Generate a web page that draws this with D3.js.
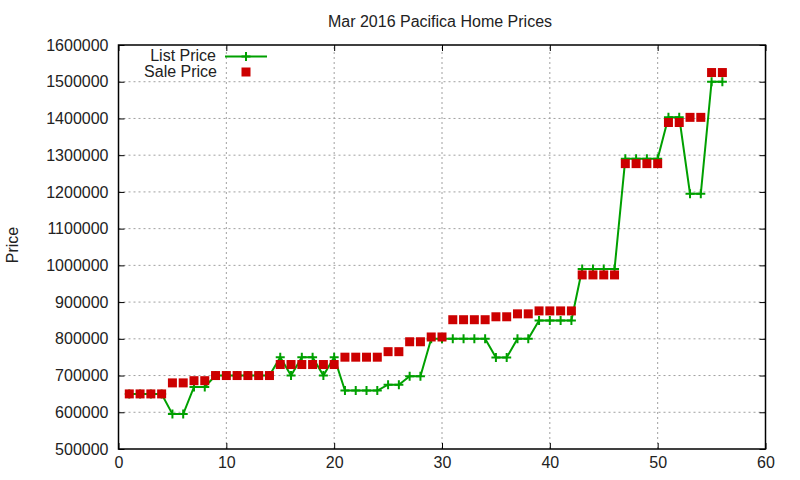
<!DOCTYPE html>
<html>
<head>
<meta charset="utf-8">
<script src="https://cdn.jsdelivr.net/npm/d3@7"></script>
<style>
  body { margin: 0; background: #fff; }
  svg text { font-family: "Liberation Sans", Arial, sans-serif; font-size: 16px; fill: #222; }
</style>
</head>
<body>
<div class="content"></div>
<script>
//--> Data
const homeIndex = [
  1, 2, 3, 4, 5, 6, 7, 8, 9, 10, 11, 12, 13, 14, 15, 16, 17, 18, 19, 20,
  21, 22, 23, 24, 25, 26, 27, 28, 29, 30, 31, 32, 33, 34, 35, 36, 37, 38, 39, 40,
  41, 42, 43, 44, 45, 46, 47, 48, 49, 50, 51, 52, 53, 54, 55, 56
];
const listPrice = [
  650000, 650000, 650000, 650000, 595000, 595000, 669000, 669000, 700000, 700000,
  700000, 700000, 700000, 700000, 750000, 700000, 750000, 750000, 700000, 750000,
  659000, 659000, 659000, 659000, 675000, 675000, 698000, 698000, 800000, 800000,
  800000, 800000, 800000, 800000, 749000, 749000, 800000, 800000, 850000, 850000,
  850000, 850000, 990000, 990000, 990000, 990000, 1290000, 1290000, 1290000, 1290000,
  1403000, 1403000, 1195000, 1195000, 1500000, 1500000
];
const salePrice = [
  650000, 650000, 650000, 650000, 680000, 680000, 686000, 686000, 700000, 700000,
  700000, 700000, 700000, 700000, 730000, 730000, 730000, 730000, 730000, 730000,
  750000, 750000, 750000, 750000, 765000, 765000, 792000, 792000, 805000, 805000,
  852000, 852000, 852000, 852000, 860000, 860000, 868000, 868000, 876000, 876000,
  876000, 876000, 974000, 974000, 974000, 974000, 1277000, 1277000, 1277000, 1277000,
  1389000, 1389000, 1403000, 1403000, 1525000, 1525000
];
const xTicks = [0, 10, 20, 30, 40, 50, 60];
const yTicks = [500000, 600000, 700000, 800000, 900000, 1000000, 1100000,
  1200000, 1300000, 1400000, 1500000, 1600000];
const seriesNames = ["List Price", "Sale Price"];

//--> Set up main elements
const width = 800;
const height = 480;
const margin = { top: 45, right: 34.5, bottom: 31, left: 118.5 };
const green = "#00a000";
const red = "#cc0000";

const svg = d3
  .select(".content")
  .append("svg")
  .attr("width", width)
  .attr("height", height);

const x = d3.scaleLinear().domain([0, 60]).range([margin.left, width - margin.right]);
const y = d3.scaleLinear().domain([500000, 1600000]).range([height - margin.bottom, margin.top]);

const points = homeIndex.map((d, i) => ({ i: d, list: listPrice[i], sale: salePrice[i] }));

//--> Grid
const grid = svg.append("g").attr("stroke", "#a0a0a0").attr("stroke-dasharray", "2,3");
grid.selectAll(".vg")
  .data(xTicks.slice(1, -1))
  .join("line")
  .attr("x1", d => x(d)).attr("x2", d => x(d))
  .attr("y1", y.range()[0]).attr("y2", y.range()[1]);
grid.selectAll(".hg")
  .data(yTicks.slice(1, -1))
  .join("line")
  .attr("y1", d => y(d)).attr("y2", d => y(d))
  .attr("x1", x.range()[0]).attr("x2", x.range()[1]);

//--> Axes (ticks inward, mirrored)
svg.append("g")
  .attr("transform", `translate(0,${y.range()[0]})`)
  .call(d3.axisBottom(x).tickValues(xTicks).tickSizeInner(-6).tickSizeOuter(0).tickPadding(7.5))
  .call(g => g.select(".domain").remove());
svg.append("g")
  .attr("transform", `translate(0,${y.range()[1]})`)
  .call(d3.axisTop(x).tickValues(xTicks).tickSizeInner(-6).tickSizeOuter(0).tickFormat(""))
  .call(g => g.select(".domain").remove());
svg.append("g")
  .attr("transform", `translate(${x.range()[0]},0)`)
  .call(d3.axisLeft(y).tickValues(yTicks).tickSizeInner(-6).tickSizeOuter(0).tickPadding(10).tickFormat(d3.format("d")))
  .call(g => g.select(".domain").remove());
svg.append("g")
  .attr("transform", `translate(${x.range()[1]},0)`)
  .call(d3.axisRight(y).tickValues(yTicks).tickSizeInner(-6).tickSizeOuter(0).tickFormat(""))
  .call(g => g.select(".domain").remove());
svg.selectAll(".tick line").attr("stroke", "#000");
svg.selectAll(".tick text").attr("fill", "#222").style("font-size", "16px")
  .style("font-family", '"Liberation Sans", Arial, sans-serif');

svg.append("rect")
  .attr("x", x.range()[0]).attr("y", y.range()[1])
  .attr("width", x.range()[1] - x.range()[0])
  .attr("height", y.range()[0] - y.range()[1])
  .attr("fill", "none").attr("stroke", "#000").attr("stroke-width", 1.5);

//--> List price line + markers
const plusPath = s => `M${-s},0H${s}M0,${-s}V${s}`;

svg.append("path")
  .datum(points)
  .attr("fill", "none")
  .attr("stroke", green)
  .attr("stroke-width", 2)
  .attr("d", d3.line().x(d => x(d.i)).y(d => y(d.list)));

svg.append("g")
  .selectAll("path")
  .data(points)
  .join("path")
  .attr("transform", d => `translate(${x(d.i)},${y(d.list)})`)
  .attr("d", plusPath(4.5))
  .attr("stroke", green)
  .attr("stroke-width", 2);

//--> Sale price squares
svg.append("g")
  .selectAll("rect")
  .data(points)
  .join("rect")
  .attr("x", d => x(d.i) - 4.5)
  .attr("y", d => y(d.sale) - 4.5)
  .attr("width", 9)
  .attr("height", 9)
  .attr("fill", red);

//--> Title and y label
svg.append("text")
  .attr("x", 440)
  .attr("y", 27)
  .attr("text-anchor", "middle")
  .text("Mar 2016 Pacifica Home Prices");

svg.append("text")
  .attr("transform", "translate(18,245) rotate(-90)")
  .attr("text-anchor", "middle")
  .text("Price");

//--> Legend
const legend = svg.append("g");
legend.append("text")
  .attr("x", 216).attr("y", 61)
  .attr("text-anchor", "end")
  .text(seriesNames[0]);
legend.append("line")
  .attr("x1", 225).attr("x2", 267)
  .attr("y1", 56.5).attr("y2", 56.5)
  .attr("stroke", green).attr("stroke-width", 2);
legend.append("path")
  .attr("transform", "translate(246,56.5)")
  .attr("d", plusPath(4.5))
  .attr("stroke", green).attr("stroke-width", 2);
legend.append("text")
  .attr("x", 217).attr("y", 77)
  .attr("text-anchor", "end")
  .text(seriesNames[1]);
legend.append("rect")
  .attr("x", 241.5).attr("y", 67.5)
  .attr("width", 9).attr("height", 9)
  .attr("fill", red);
</script>
</body>
</html>
